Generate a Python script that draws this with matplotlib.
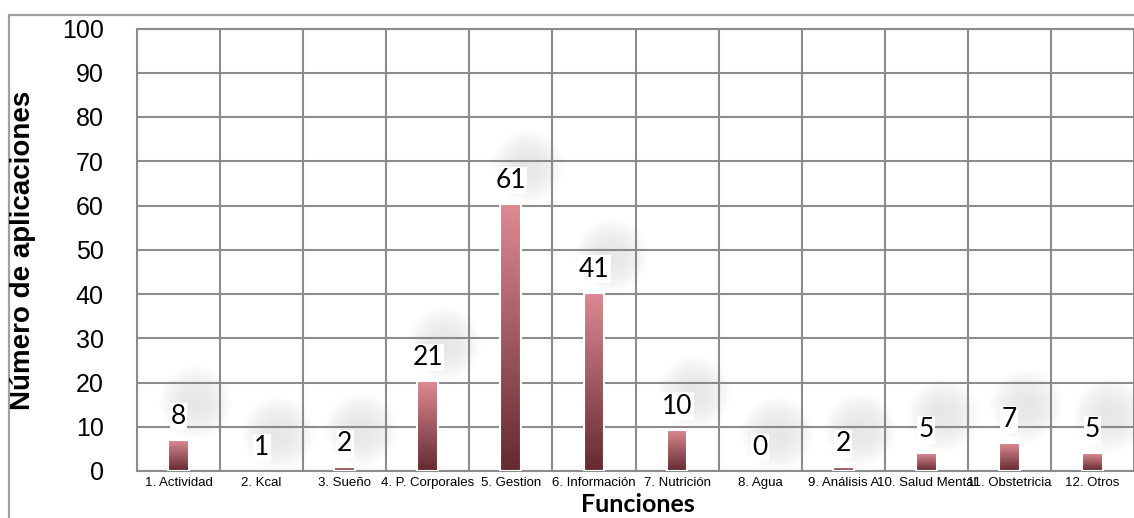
import matplotlib

matplotlib.use("Agg")
import matplotlib.pyplot as plt
import numpy as np
from matplotlib.colors import LinearSegmentedColormap
from matplotlib.patches import Rectangle

# values
CATEGORIES = ["1. Actividad", "2. Kcal", "3. Sueño", "4. P. Corporales",
              "5. Gestion", "6. Información", "7. Nutrición", "8. Agua",
              "9. Análisis A", "10. Salud Mental", "11. Obstetricia",
              "12. Otros"]
LABELS = [8, 1, 2, 21, 61, 41, 10, 0, 2, 5, 7, 5]
# visible bar heights (drawn a bit lower than the labels in the original)
HEIGHTS = [7.0, 0.0, 0.8, 20.3, 60.3, 40.3, 9.3, 0.0, 0.8, 4.0, 6.3, 4.0]

GRID = "#8c8c8c"
BAR_CMAP = LinearSegmentedColormap.from_list("bar", ["#632a30", "#de8a92"])

fig = plt.figure(figsize=(11.34, 5.18), dpi=100)
ax = fig.add_axes([137 / 1134, 1 - 471 / 518, 1 - 137 / 1134, (471 - 28.5) / 518])

# outer frame of the chart object (clipped on the right / bottom)
fig.patches.append(Rectangle((9 / 1134, -0.05), 1.2, (518 - 15) / 518 + 0.05,
                             transform=fig.transFigure, fill=False,
                             ec="#a0a0a0", lw=1.6, zorder=0))

x = np.arange(len(CATEGORIES))
width = 0.25
grad = np.linspace(0, 1, 256).reshape(-1, 1)

for xi, h, lab in zip(x, HEIGHTS, LABELS):
    # soft grey glow behind each label, up and right of it
    for s in np.linspace(2800, 100, 24):
        ax.scatter(xi + 0.2, h + 8.6, s=s, color="#8a8a8a", alpha=0.007,
                   lw=0, zorder=1.5)
    if h > 0:
        rect = Rectangle((xi - width / 2, 0), width, h, fc="none", ec="white",
                         lw=1.5, zorder=3)
        ax.add_patch(rect)
        im = ax.imshow(grad, cmap=BAR_CMAP, origin="lower", aspect="auto",
                       extent=(xi - width / 2, xi + width / 2, 0, h), zorder=2.5)
        im.set_clip_path(rect)
    ax.annotate(f"{lab}", (xi, h), textcoords="offset points", xytext=(0, 17),
                ha="center", va="center", fontsize=19, family="Lato",
                bbox=dict(fc="white", ec="none", pad=1.0), zorder=4)

ax.set_xlim(-0.5, len(CATEGORIES) - 0.5)
ax.set_ylim(0, 100)
ax.set_yticks(range(0, 101, 10))
ax.set_xticks(x)
ax.set_xticklabels(CATEGORIES, fontsize=9.5, family="Liberation Sans")
ax.set_xticks(np.arange(-0.5, len(CATEGORIES)), minor=True)
ax.tick_params(axis="y", length=0, pad=24, labelsize=18)
ax.tick_params(axis="x", which="both", length=0, pad=4)
for t in ax.get_yticklabels():
    t.set_family("Liberation Sans")

ax.grid(axis="y", color=GRID, lw=1.5, zorder=0)
ax.grid(axis="x", which="minor", color=GRID, lw=1.5, zorder=0)
ax.grid(axis="x", which="major", visible=False)
ax.set_axisbelow(True)
for side, sp in ax.spines.items():
    sp.set_color(GRID)
    sp.set_linewidth(1.5)
ax.spines["right"].set_visible(False)

fig.text(23 / 1134, 1 - 250 / 518, "Número de aplicaciones", rotation=90,
         ha="center", va="center", fontsize=20, fontweight="bold",
         family="Liberation Sans")
fig.text(638 / 1134, 1 - 505 / 518, "Funciones", ha="center", va="center",
         fontsize=18, fontweight="bold", family="Lato")

fig.savefig("out.png", dpi=100)
